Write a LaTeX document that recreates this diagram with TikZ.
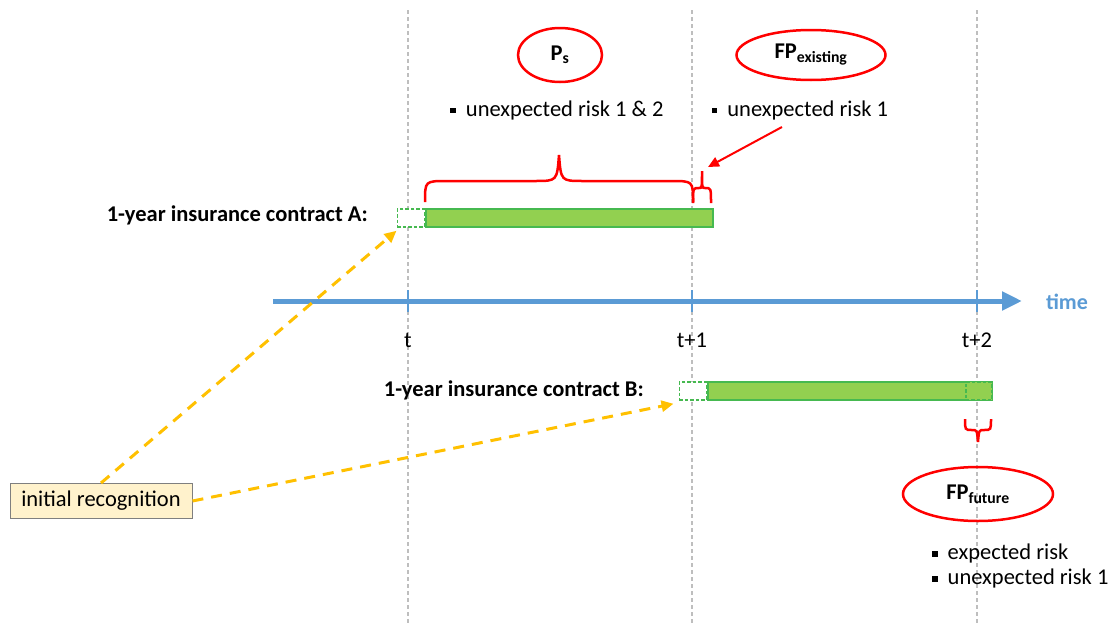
\documentclass[tikz,border=0pt]{standalone}
\usepackage{fontspec}
\setmainfont{Carlito}
\usetikzlibrary{arrows.meta,shapes.geometric}
\definecolor{axisblue}{RGB}{91,155,213}
\definecolor{barfill}{RGB}{146,208,80}
\definecolor{bardraw}{RGB}{70,185,80}
\definecolor{ywarrow}{RGB}{255,192,0}
\definecolor{boxfill}{RGB}{255,242,204}
\definecolor{boxdraw}{RGB}{127,127,127}
\definecolor{guidegray}{RGB}{190,190,190}
\newcommand{\bul}{\rule[0.12em]{0.24em}{0.24em}\hspace{0.45em}}
\tikzset{
  guide/.style={draw=guidegray, line width=1.2pt, dash pattern=on 4pt off 3pt},
  axisline/.style={draw=axisblue, line width=5pt, -{Triangle[length=20pt,width=18pt]}},
  tickmark/.style={draw=axisblue, line width=2pt},
  greenbar/.style={draw=bardraw, line width=1.5pt, fill=barfill, inner sep=0pt, rectangle},
  dashbox/.style={draw=bardraw, line width=1.5pt, dash pattern=on 3.5pt off 2pt, fill=white, inner sep=0pt, rectangle},
  redell/.style={draw=red, line width=2.5pt, ellipse, inner sep=0pt},
  redbrace/.style={draw=red, line width=2.5pt},
  redarrow/.style={draw=red, line width=2pt, -{Triangle[length=11pt,width=10pt]}},
  yarrow/.style={draw=ywarrow, line width=3pt, dash pattern=on 11pt off 8pt, -{Triangle[length=12pt,width=11pt]}},
  lbl/.style={inner sep=0pt},
  boldlbl/.style={inner sep=0pt, anchor=east, font=\fontsize{22.5}{27}\selectfont\bfseries},
}
\begin{document}
\begin{tikzpicture}[x=1pt,y=-1pt,font=\fontsize{22.5}{27}\selectfont]
\useasboundingbox (0,0) rectangle (1120,624);
% time points
\coordinate (t0) at (408,301);
\coordinate (t1) at (692,301);
\coordinate (t2) at (977,301);
% guides
\draw[guide] (t0 |- 0,10) -- (t0 |- 0,624);
\draw[guide] (t1 |- 0,10) -- (t1 |- 0,624);
\draw[guide] (t2 |- 0,10) -- (t2 |- 0,624);
% axis
\coordinate (axs) at (273,301);
\coordinate (axe) at (1022,301);
\draw[axisline] (axs) -- (axe);
\foreach \p in {t0,t1,t2} \draw[tickmark] ([yshift=11pt]\p) -- ([yshift=-11pt]\p);
\node[lbl, font=\fontsize{22}{26}\selectfont\bfseries, text=axisblue] (time) at (1067,302) {time};
\node[lbl] (lt0) at (408,340) {t};
\node[lbl] (lt1) at (692,340) {t+1};
\node[lbl] (lt2) at (977,340) {t+2};
% contract A
\node[greenbar, minimum width=287pt, minimum height=18pt, anchor=west] (barA) at (425,218) {};
\node[dashbox, minimum width=27pt, minimum height=18pt, anchor=east] (startA) at (barA.west) {};
\node[boldlbl] (labA) at (368,215) {1-year insurance contract A:};
% contract B
\node[greenbar, minimum width=284pt, minimum height=18pt, anchor=west] (barB) at (707,391) {};
\node[dashbox, minimum width=27pt, minimum height=18pt, anchor=east] (startB) at (barB.west) {};
\node[dashbox, fill=barfill, minimum width=26pt, minimum height=18pt, anchor=east] (endB) at (barB.east) {};
\node[boldlbl] (labB) at (644,390) {1-year insurance contract B:};
% braces
\draw[redbrace] (425,202) .. controls (425,181) .. (447,181) -- (535,181) .. controls (557,181) .. (559,155) .. controls (561,181) .. (583,181) -- (671,181) .. controls (693,181) .. (693,202);
\draw[redbrace] (693,203) .. controls (693,188) .. (699,188) .. controls (702,188) .. (702,171) .. controls (702,188) .. (705,188) .. controls (711,188) .. (711,203);
\draw[redbrace] (965,419) .. controls (965,430) .. (972,430) .. controls (977,430) .. (978,442) .. controls (979,430) .. (984,430) .. controls (991,430) .. (991,419);
% ellipses
\node[redell, minimum width=84pt, minimum height=54pt] (ps) at (560,55) {\textbf{P\textsubscript{s}}};
\node[redell, minimum width=149pt, minimum height=50pt] (fpe) at (811,55) {\textbf{FP\textsubscript{existing}}};
\node[redell, minimum width=150pt, minimum height=54pt] (fpf) at (978,494) {\textbf{FP\textsubscript{future}}};
% bullet texts
\node[lbl] (tps) at (557,110) {\bul unexpected risk 1 \& 2};
\node[lbl] (tfpe) at (800,110) {\bul unexpected risk 1};
\node[lbl, anchor=west, align=left] (tfpf) at (932,566) {\bul expected risk\\[-2pt]\bul unexpected risk 1};
% red arrow
\coordinate (ra0) at (782,127);
\coordinate (ra1) at (708,167);
\draw[redarrow] (ra0) -- (ra1);
% initial recognition
\node[draw=boxdraw, fill=boxfill, line width=1pt, minimum width=182pt, minimum height=35pt, inner sep=0pt] (init) at (101,501) {initial recognition};
\draw[yarrow] (init.north) -- ([shift={(0pt,-3pt)}]startA.south west);
\draw[yarrow] (init.east) -- ([shift={(-5pt,-3pt)}]startB.south west);
\end{tikzpicture}
\end{document}
